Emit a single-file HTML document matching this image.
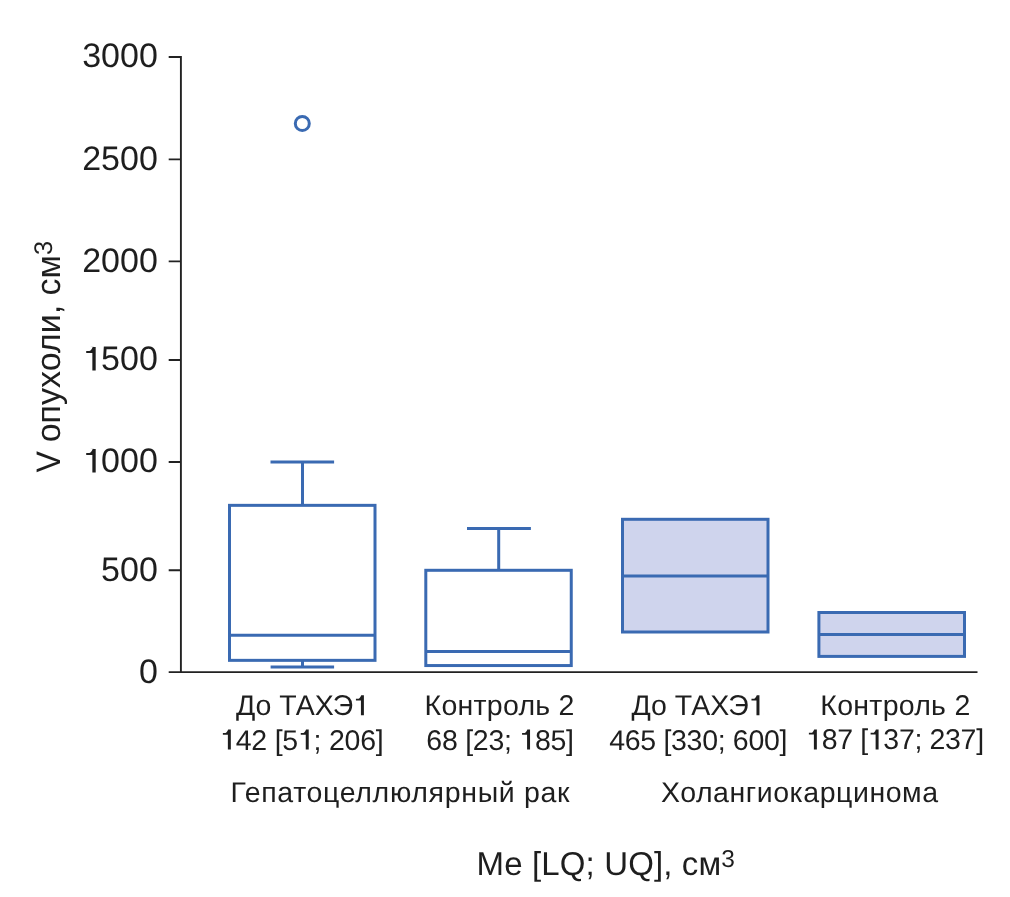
<!DOCTYPE html>
<html>
<head>
<meta charset="utf-8">
<style>
html,body{margin:0;padding:0;background:#fff;}
body{width:1010px;height:897px;overflow:hidden;}
svg{display:block;will-change:transform;}
text{font-family:"Liberation Sans",sans-serif;fill:#1e1e1e;text-rendering:geometricPrecision;}
.b{fill:none;stroke:#3a6ab2;stroke-width:3;}
.f{fill:#cfd4ed;stroke:#3a6ab2;stroke-width:3;}
.ax{stroke:#222222;stroke-width:1.9;fill:none;}
</style>
</head>
<body>
<svg width="1010" height="897" viewBox="0 0 1010 897">
<path class="ax" d="M180.90 56.00 V672.10 M168.70 672.10 H977.50"/>
<path class="ax" d="M168.70 57.00 H180.90 M168.70 159.40 H180.90 M168.70 261.40 H180.90 M168.70 360.00 H180.90 M168.70 462.00 H180.90 M168.70 570.20 H180.90"/>
<g style="font-size:34px" text-anchor="end">
<text x="157.80" y="67.40">3000</text>
<text x="157.80" y="169.80">2500</text>
<text x="157.80" y="271.80">2000</text>
<text x="157.80" y="370.40">1500</text>
<text x="157.80" y="472.40">1000</text>
<text x="157.80" y="580.60">500</text>
<text x="157.80" y="682.50">0</text>
</g>
<text style="font-size:34px" transform="translate(60.30 472.50) rotate(-90) scale(0.942 1)">V</text>
<text style="font-size:34px" transform="translate(60.30 442.30) rotate(-90)">опухоли, см<tspan style="font-size:25.5px" dy="-8.50">3</tspan></text>
<circle class="b" cx="302.30" cy="123.50" r="7.00"/>
<path class="b" d="M302.50 462.00 V505.35 M270.50 462.00 H334.10 M302.50 660.35 V667.00 M270.60 667.00 H334.10"/>
<rect class="b" x="229.50" y="505.35" width="145.50" height="155.00"/>
<path class="b" d="M229.50 635.30 H375.00"/>
<path class="b" d="M498.70 528.45 V570.30 M467.00 528.45 H530.90"/>
<rect class="b" x="425.80" y="570.30" width="145.45" height="95.25"/>
<path class="b" d="M425.80 651.60 H571.25"/>
<rect class="f" x="622.50" y="519.30" width="145.50" height="112.70"/>
<path class="b" d="M622.50 575.90 H768.00"/>
<rect class="f" x="818.90" y="612.50" width="145.60" height="43.90"/>
<path class="b" d="M818.90 634.50 H964.50"/>
<text style="font-size:28.5px" x="236.03" y="715.30" textLength="132.98">До ТАХЭ1</text>
<text style="font-size:28.5px" x="220.09" y="749.50" textLength="163.70">142 [51; 206]</text>
<text style="font-size:28.5px" x="424.57" y="715.30" textLength="149.82">Контроль 2</text>
<text style="font-size:28.5px" x="426.31" y="749.50" textLength="147.68">68 [23; 185]</text>
<text style="font-size:28.5px" x="631.52" y="715.30" textLength="133.04">До ТАХЭ1</text>
<text style="font-size:28.5px" x="609.31" y="749.50" textLength="178.06">465 [330; 600]</text>
<text style="font-size:28.5px" x="820.36" y="715.00" textLength="149.89">Контроль 2</text>
<text style="font-size:28.5px" x="806.11" y="749.40" textLength="177.94">187 [137; 237]</text>
<text style="font-size:28.5px" x="230.48" y="802.00" textLength="338.95">Гепатоцеллюлярный рак</text>
<text style="font-size:28.5px" x="660.91" y="802.00" textLength="277.15">Холангиокарцинома</text>
<text style="font-size:33px" x="476.61" y="875.20" textLength="258.26">Me [LQ; UQ], см<tspan style="font-size:24.5px" dy="-8.30">3</tspan></text>
<rect x="83.94" y="346.21" width="16.25" height="24.99" fill="#fff"/>
<path d="M92.36 370.40 L95.69 370.40 L95.69 347.01 L92.69 347.01 C91.68 349.39 90.32 351.02 89.27 351.02 L86.21 351.02 L86.21 353.06 L92.36 353.06 Z" fill="#1e1e1e"/>
<rect x="83.94" y="448.21" width="16.25" height="24.99" fill="#fff"/>
<path d="M92.36 472.40 L95.69 472.40 L95.69 449.01 L92.69 449.01 C91.68 451.39 90.32 453.02 89.27 453.02 L86.21 453.02 L86.21 455.06 L92.36 455.06 Z" fill="#1e1e1e"/>
<rect x="354.52" y="694.89" width="13.88" height="21.21" fill="#fff"/>
<path d="M360.93 715.30 L363.90 715.30 L363.90 695.35 L361.23 695.35 C360.36 697.34 359.22 698.77 358.49 698.77 L355.93 698.77 L355.93 700.51 L360.93 700.51 Z" fill="#1e1e1e"/>
<rect x="221.46" y="729.09" width="13.88" height="21.21" fill="#fff"/>
<path d="M227.87 749.50 L230.83 749.50 L230.83 729.55 L228.17 729.55 C227.30 731.54 226.16 732.97 225.43 732.97 L222.87 732.97 L222.87 734.71 L227.87 734.71 Z" fill="#1e1e1e"/>
<rect x="299.35" y="729.09" width="13.88" height="21.21" fill="#fff"/>
<path d="M305.76 749.50 L308.72 749.50 L308.72 729.55 L306.06 729.55 C305.19 731.54 304.05 732.97 303.32 732.97 L300.76 732.97 L300.76 734.71 L305.76 734.71 Z" fill="#1e1e1e"/>
<rect x="520.66" y="729.09" width="13.88" height="21.21" fill="#fff"/>
<path d="M527.07 749.50 L530.04 749.50 L530.04 729.55 L527.37 729.55 C526.50 731.54 525.36 732.97 524.64 732.97 L522.07 732.97 L522.07 734.71 L527.07 734.71 Z" fill="#1e1e1e"/>
<rect x="750.07" y="694.89" width="13.88" height="21.21" fill="#fff"/>
<path d="M756.48 715.30 L759.45 715.30 L759.45 695.35 L756.78 695.35 C755.91 697.34 754.77 698.77 754.04 698.77 L751.48 698.77 L751.48 700.51 L756.48 700.51 Z" fill="#1e1e1e"/>
<rect x="807.48" y="728.99" width="13.88" height="21.21" fill="#fff"/>
<path d="M813.89 749.40 L816.85 749.40 L816.85 729.45 L814.19 729.45 C813.32 731.45 812.18 732.87 811.45 732.87 L808.89 732.87 L808.89 734.61 L813.89 734.61 Z" fill="#1e1e1e"/>
<rect x="869.20" y="728.99" width="13.88" height="21.21" fill="#fff"/>
<path d="M875.62 749.40 L878.58 749.40 L878.58 729.45 L875.92 729.45 C875.05 731.45 873.91 732.87 873.18 732.87 L870.62 732.87 L870.62 734.61 L875.62 734.61 Z" fill="#1e1e1e"/>
</svg>
</body>
</html>
